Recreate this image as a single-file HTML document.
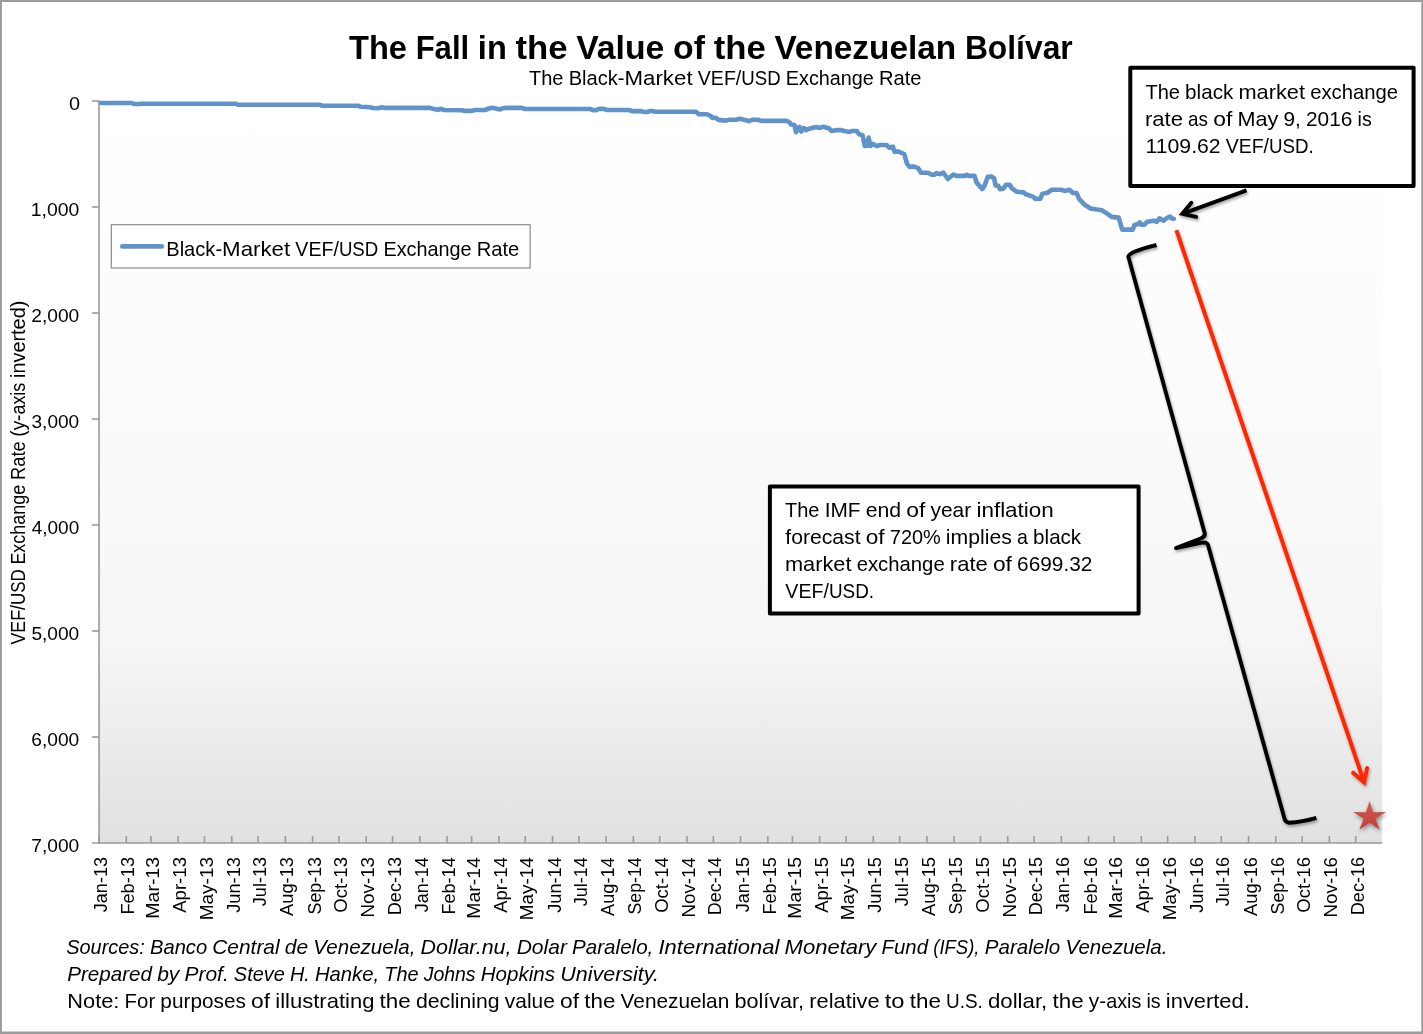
<!DOCTYPE html>
<html lang="en">
<head>
<meta charset="utf-8">
<title>The Fall in the Value of the Venezuelan Bolívar</title>
<style>
html,body{margin:0;padding:0;background:#fff;}
body{width:1423px;height:1034px;overflow:hidden;font-family:"Liberation Sans",sans-serif;}
svg{display:block;will-change:transform;}
</style>
</head>
<body>
<svg width="1423" height="1034" viewBox="0 0 1423 1034" font-family="'Liberation Sans', sans-serif" fill="#000">
<defs>
<linearGradient id="pg" x1="0" y1="0" x2="0" y2="1">
<stop offset="0" stop-color="#ffffff"/>
<stop offset="0.30" stop-color="#fcfcfc"/>
<stop offset="0.62" stop-color="#f8f8f8"/>
<stop offset="0.74" stop-color="#f5f5f5"/>
<stop offset="0.81" stop-color="#f0f0f0"/>
<stop offset="0.89" stop-color="#e9e9e9"/>
<stop offset="0.97" stop-color="#e3e3e3"/>
<stop offset="1" stop-color="#e1e1e1"/>
</linearGradient>
<linearGradient id="sg" x1="0" y1="0" x2="0" y2="1">
<stop offset="0" stop-color="#d9574e"/>
<stop offset="1" stop-color="#b9433a"/>
</linearGradient>
<filter id="sh" x="-20%" y="-20%" width="140%" height="140%">
<feGaussianBlur in="SourceAlpha" stdDeviation="1.7"/>
<feOffset dx="0.6" dy="2.2" result="o"/>
<feComponentTransfer><feFuncA type="linear" slope="0.36"/></feComponentTransfer>
<feMerge><feMergeNode/><feMergeNode in="SourceGraphic"/></feMerge>
</filter>
<filter id="sh2" x="-30%" y="-30%" width="160%" height="170%">
<feGaussianBlur in="SourceAlpha" stdDeviation="1.9"/>
<feOffset dx="0.6" dy="2.2" result="o"/>
<feComponentTransfer><feFuncA type="linear" slope="0.42"/></feComponentTransfer>
<feMerge><feMergeNode/><feMergeNode in="SourceGraphic"/></feMerge>
</filter>
</defs>
<rect x="0" y="0" width="1423" height="1034" fill="#fff"/>
<rect x="99.05" y="101.0" width="1283.15" height="742.00" fill="url(#pg)"/>
<g stroke="#9a9a9a" stroke-width="1.6" fill="none">
<line x1="99.05" y1="100.4" x2="99.05" y2="843.7"/>
<line x1="92.05" y1="843.0" x2="1382.2" y2="843.0"/>
<line x1="92.05" y1="101.0" x2="99.05" y2="101.0"/>
<line x1="92.05" y1="207.0" x2="99.05" y2="207.0"/>
<line x1="92.05" y1="313.0" x2="99.05" y2="313.0"/>
<line x1="92.05" y1="419.0" x2="99.05" y2="419.0"/>
<line x1="92.05" y1="525.0" x2="99.05" y2="525.0"/>
<line x1="92.05" y1="631.0" x2="99.05" y2="631.0"/>
<line x1="92.05" y1="737.0" x2="99.05" y2="737.0"/>
<line x1="99.05" y1="836.0" x2="99.05" y2="843.0"/>
<line x1="126.29" y1="836.0" x2="126.29" y2="843.0"/>
<line x1="150.90" y1="836.0" x2="150.90" y2="843.0"/>
<line x1="178.14" y1="836.0" x2="178.14" y2="843.0"/>
<line x1="204.51" y1="836.0" x2="204.51" y2="843.0"/>
<line x1="231.75" y1="836.0" x2="231.75" y2="843.0"/>
<line x1="258.11" y1="836.0" x2="258.11" y2="843.0"/>
<line x1="285.36" y1="836.0" x2="285.36" y2="843.0"/>
<line x1="312.60" y1="836.0" x2="312.60" y2="843.0"/>
<line x1="338.96" y1="836.0" x2="338.96" y2="843.0"/>
<line x1="366.21" y1="836.0" x2="366.21" y2="843.0"/>
<line x1="392.57" y1="836.0" x2="392.57" y2="843.0"/>
<line x1="419.81" y1="836.0" x2="419.81" y2="843.0"/>
<line x1="447.05" y1="836.0" x2="447.05" y2="843.0"/>
<line x1="471.66" y1="836.0" x2="471.66" y2="843.0"/>
<line x1="498.90" y1="836.0" x2="498.90" y2="843.0"/>
<line x1="525.27" y1="836.0" x2="525.27" y2="843.0"/>
<line x1="552.51" y1="836.0" x2="552.51" y2="843.0"/>
<line x1="578.87" y1="836.0" x2="578.87" y2="843.0"/>
<line x1="606.12" y1="836.0" x2="606.12" y2="843.0"/>
<line x1="633.36" y1="836.0" x2="633.36" y2="843.0"/>
<line x1="659.72" y1="836.0" x2="659.72" y2="843.0"/>
<line x1="686.97" y1="836.0" x2="686.97" y2="843.0"/>
<line x1="713.33" y1="836.0" x2="713.33" y2="843.0"/>
<line x1="740.57" y1="836.0" x2="740.57" y2="843.0"/>
<line x1="767.82" y1="836.0" x2="767.82" y2="843.0"/>
<line x1="792.42" y1="836.0" x2="792.42" y2="843.0"/>
<line x1="819.67" y1="836.0" x2="819.67" y2="843.0"/>
<line x1="846.03" y1="836.0" x2="846.03" y2="843.0"/>
<line x1="873.27" y1="836.0" x2="873.27" y2="843.0"/>
<line x1="899.64" y1="836.0" x2="899.64" y2="843.0"/>
<line x1="926.88" y1="836.0" x2="926.88" y2="843.0"/>
<line x1="954.12" y1="836.0" x2="954.12" y2="843.0"/>
<line x1="980.49" y1="836.0" x2="980.49" y2="843.0"/>
<line x1="1007.73" y1="836.0" x2="1007.73" y2="843.0"/>
<line x1="1034.09" y1="836.0" x2="1034.09" y2="843.0"/>
<line x1="1061.34" y1="836.0" x2="1061.34" y2="843.0"/>
<line x1="1088.58" y1="836.0" x2="1088.58" y2="843.0"/>
<line x1="1114.06" y1="836.0" x2="1114.06" y2="843.0"/>
<line x1="1141.31" y1="836.0" x2="1141.31" y2="843.0"/>
<line x1="1167.67" y1="836.0" x2="1167.67" y2="843.0"/>
<line x1="1194.91" y1="836.0" x2="1194.91" y2="843.0"/>
<line x1="1221.28" y1="836.0" x2="1221.28" y2="843.0"/>
<line x1="1248.52" y1="836.0" x2="1248.52" y2="843.0"/>
<line x1="1275.76" y1="836.0" x2="1275.76" y2="843.0"/>
<line x1="1302.13" y1="836.0" x2="1302.13" y2="843.0"/>
<line x1="1329.37" y1="836.0" x2="1329.37" y2="843.0"/>
<line x1="1355.73" y1="836.0" x2="1355.73" y2="843.0"/>
</g>
<text x="68.92" y="109.60" font-size="18.0" textLength="11.05" lengthAdjust="spacingAndGlyphs">0</text>
<text x="30.72" y="215.60" font-size="18.0" textLength="48.53" lengthAdjust="spacingAndGlyphs">1,000</text>
<text x="31.24" y="321.60" font-size="18.0" textLength="48.01" lengthAdjust="spacingAndGlyphs">2,000</text>
<text x="31.47" y="427.60" font-size="18.0" textLength="47.77" lengthAdjust="spacingAndGlyphs">3,000</text>
<text x="31.76" y="533.60" font-size="18.0" textLength="47.48" lengthAdjust="spacingAndGlyphs">4,000</text>
<text x="31.44" y="639.60" font-size="18.0" textLength="47.81" lengthAdjust="spacingAndGlyphs">5,000</text>
<text x="31.23" y="745.60" font-size="18.0" textLength="48.02" lengthAdjust="spacingAndGlyphs">6,000</text>
<text x="31.22" y="851.60" font-size="18.0" textLength="48.03" lengthAdjust="spacingAndGlyphs">7,000</text>
<text transform="translate(107.15,912.18) rotate(-90)" font-size="18.0" textLength="55.17" lengthAdjust="spacingAndGlyphs">Jan-13</text>
<text transform="translate(134.39,914.59) rotate(-90)" font-size="18.0" textLength="57.59" lengthAdjust="spacingAndGlyphs">Feb-13</text>
<text transform="translate(159.00,918.70) rotate(-90)" font-size="18.0" textLength="61.76" lengthAdjust="spacingAndGlyphs">Mar-13</text>
<text transform="translate(186.24,912.84) rotate(-90)" font-size="18.0" textLength="55.85" lengthAdjust="spacingAndGlyphs">Apr-13</text>
<text transform="translate(212.61,920.26) rotate(-90)" font-size="18.0" textLength="63.29" lengthAdjust="spacingAndGlyphs">May-13</text>
<text transform="translate(239.85,912.79) rotate(-90)" font-size="18.0" textLength="55.79" lengthAdjust="spacingAndGlyphs">Jun-13</text>
<text transform="translate(266.21,906.18) rotate(-90)" font-size="18.0" textLength="49.18" lengthAdjust="spacingAndGlyphs">Jul-13</text>
<text transform="translate(293.46,915.94) rotate(-90)" font-size="18.0" textLength="58.94" lengthAdjust="spacingAndGlyphs">Aug-13</text>
<text transform="translate(320.70,914.51) rotate(-90)" font-size="18.0" textLength="57.49" lengthAdjust="spacingAndGlyphs">Sep-13</text>
<text transform="translate(347.06,912.78) rotate(-90)" font-size="18.0" textLength="55.80" lengthAdjust="spacingAndGlyphs">Oct-13</text>
<text transform="translate(374.31,917.44) rotate(-90)" font-size="18.0" textLength="60.46" lengthAdjust="spacingAndGlyphs">Nov-13</text>
<text transform="translate(400.67,915.18) rotate(-90)" font-size="18.0" textLength="58.17" lengthAdjust="spacingAndGlyphs">Dec-13</text>
<text transform="translate(427.91,912.18) rotate(-90)" font-size="18.0" textLength="54.91" lengthAdjust="spacingAndGlyphs">Jan-14</text>
<text transform="translate(455.15,914.58) rotate(-90)" font-size="18.0" textLength="57.31" lengthAdjust="spacingAndGlyphs">Feb-14</text>
<text transform="translate(479.76,918.69) rotate(-90)" font-size="18.0" textLength="61.46" lengthAdjust="spacingAndGlyphs">Mar-14</text>
<text transform="translate(507.00,912.84) rotate(-90)" font-size="18.0" textLength="55.58" lengthAdjust="spacingAndGlyphs">Apr-14</text>
<text transform="translate(533.37,920.25) rotate(-90)" font-size="18.0" textLength="63.00" lengthAdjust="spacingAndGlyphs">May-14</text>
<text transform="translate(560.61,912.78) rotate(-90)" font-size="18.0" textLength="55.52" lengthAdjust="spacingAndGlyphs">Jun-14</text>
<text transform="translate(586.97,906.18) rotate(-90)" font-size="18.0" textLength="48.91" lengthAdjust="spacingAndGlyphs">Jul-14</text>
<text transform="translate(614.22,915.94) rotate(-90)" font-size="18.0" textLength="58.67" lengthAdjust="spacingAndGlyphs">Aug-14</text>
<text transform="translate(641.46,914.51) rotate(-90)" font-size="18.0" textLength="57.23" lengthAdjust="spacingAndGlyphs">Sep-14</text>
<text transform="translate(667.82,912.78) rotate(-90)" font-size="18.0" textLength="55.52" lengthAdjust="spacingAndGlyphs">Oct-14</text>
<text transform="translate(695.07,917.43) rotate(-90)" font-size="18.0" textLength="60.18" lengthAdjust="spacingAndGlyphs">Nov-14</text>
<text transform="translate(721.43,915.17) rotate(-90)" font-size="18.0" textLength="57.90" lengthAdjust="spacingAndGlyphs">Dec-14</text>
<text transform="translate(748.67,912.18) rotate(-90)" font-size="18.0" textLength="55.14" lengthAdjust="spacingAndGlyphs">Jan-15</text>
<text transform="translate(775.92,914.59) rotate(-90)" font-size="18.0" textLength="57.55" lengthAdjust="spacingAndGlyphs">Feb-15</text>
<text transform="translate(800.52,918.70) rotate(-90)" font-size="18.0" textLength="61.72" lengthAdjust="spacingAndGlyphs">Mar-15</text>
<text transform="translate(827.77,912.84) rotate(-90)" font-size="18.0" textLength="55.82" lengthAdjust="spacingAndGlyphs">Apr-15</text>
<text transform="translate(854.13,920.26) rotate(-90)" font-size="18.0" textLength="63.25" lengthAdjust="spacingAndGlyphs">May-15</text>
<text transform="translate(881.37,912.78) rotate(-90)" font-size="18.0" textLength="55.75" lengthAdjust="spacingAndGlyphs">Jun-15</text>
<text transform="translate(907.74,906.18) rotate(-90)" font-size="18.0" textLength="49.14" lengthAdjust="spacingAndGlyphs">Jul-15</text>
<text transform="translate(934.98,915.94) rotate(-90)" font-size="18.0" textLength="58.90" lengthAdjust="spacingAndGlyphs">Aug-15</text>
<text transform="translate(962.22,914.51) rotate(-90)" font-size="18.0" textLength="57.46" lengthAdjust="spacingAndGlyphs">Sep-15</text>
<text transform="translate(988.59,912.78) rotate(-90)" font-size="18.0" textLength="55.76" lengthAdjust="spacingAndGlyphs">Oct-15</text>
<text transform="translate(1015.83,917.44) rotate(-90)" font-size="18.0" textLength="60.42" lengthAdjust="spacingAndGlyphs">Nov-15</text>
<text transform="translate(1042.19,915.18) rotate(-90)" font-size="18.0" textLength="58.14" lengthAdjust="spacingAndGlyphs">Dec-15</text>
<text transform="translate(1069.44,912.18) rotate(-90)" font-size="18.0" textLength="55.17" lengthAdjust="spacingAndGlyphs">Jan-16</text>
<text transform="translate(1096.68,914.59) rotate(-90)" font-size="18.0" textLength="57.59" lengthAdjust="spacingAndGlyphs">Feb-16</text>
<text transform="translate(1122.16,918.70) rotate(-90)" font-size="18.0" textLength="61.76" lengthAdjust="spacingAndGlyphs">Mar-16</text>
<text transform="translate(1149.41,912.84) rotate(-90)" font-size="18.0" textLength="55.85" lengthAdjust="spacingAndGlyphs">Apr-16</text>
<text transform="translate(1175.77,920.26) rotate(-90)" font-size="18.0" textLength="63.29" lengthAdjust="spacingAndGlyphs">May-16</text>
<text transform="translate(1203.01,912.79) rotate(-90)" font-size="18.0" textLength="55.79" lengthAdjust="spacingAndGlyphs">Jun-16</text>
<text transform="translate(1229.38,906.18) rotate(-90)" font-size="18.0" textLength="49.18" lengthAdjust="spacingAndGlyphs">Jul-16</text>
<text transform="translate(1256.62,915.94) rotate(-90)" font-size="18.0" textLength="58.94" lengthAdjust="spacingAndGlyphs">Aug-16</text>
<text transform="translate(1283.86,914.51) rotate(-90)" font-size="18.0" textLength="57.49" lengthAdjust="spacingAndGlyphs">Sep-16</text>
<text transform="translate(1310.23,912.78) rotate(-90)" font-size="18.0" textLength="55.80" lengthAdjust="spacingAndGlyphs">Oct-16</text>
<text transform="translate(1337.47,917.44) rotate(-90)" font-size="18.0" textLength="60.46" lengthAdjust="spacingAndGlyphs">Nov-16</text>
<text transform="translate(1363.83,915.18) rotate(-90)" font-size="18.0" textLength="58.17" lengthAdjust="spacingAndGlyphs">Dec-16</text>
<g transform="translate(24.8,644.5) rotate(-90)">
<text x="-0.08" y="0.00" font-size="19.8" textLength="39.54" lengthAdjust="spacingAndGlyphs">VEF/</text>
<text x="39.47" y="0.00" font-size="19.8" textLength="35.71" lengthAdjust="spacingAndGlyphs">USD</text>
<text x="79.88" y="0.00" font-size="19.8" textLength="79.96" lengthAdjust="spacingAndGlyphs">Exchange</text>
<text x="164.54" y="0.00" font-size="19.8" textLength="38.61" lengthAdjust="spacingAndGlyphs">Rate</text>
<text x="207.85" y="0.00" font-size="19.8" textLength="22.10" lengthAdjust="spacingAndGlyphs">(y-</text>
<text x="229.95" y="0.00" font-size="19.8" textLength="31.88" lengthAdjust="spacingAndGlyphs">axis</text>
<text x="266.54" y="0.00" font-size="19.8" textLength="77.29" lengthAdjust="spacingAndGlyphs">inverted)</text>
</g>
<text x="349.03" y="59.00" font-size="34.0" textLength="57.93" lengthAdjust="spacingAndGlyphs" font-weight="bold">The</text>
<text x="415.64" y="59.00" font-size="34.0" textLength="53.56" lengthAdjust="spacingAndGlyphs" font-weight="bold">Fall</text>
<text x="477.86" y="59.00" font-size="34.0" textLength="28.93" lengthAdjust="spacingAndGlyphs" font-weight="bold">in</text>
<text x="515.46" y="59.00" font-size="34.0" textLength="52.10" lengthAdjust="spacingAndGlyphs" font-weight="bold">the</text>
<text x="576.23" y="59.00" font-size="34.0" textLength="88.16" lengthAdjust="spacingAndGlyphs" font-weight="bold">Value</text>
<text x="673.07" y="59.00" font-size="34.0" textLength="31.92" lengthAdjust="spacingAndGlyphs" font-weight="bold">of</text>
<text x="713.66" y="59.00" font-size="34.0" textLength="52.10" lengthAdjust="spacingAndGlyphs" font-weight="bold">the</text>
<text x="774.43" y="59.00" font-size="34.0" textLength="181.81" lengthAdjust="spacingAndGlyphs" font-weight="bold">Venezuelan</text>
<text x="964.91" y="59.00" font-size="34.0" textLength="107.77" lengthAdjust="spacingAndGlyphs" font-weight="bold">Bolívar</text>
<text x="528.95" y="84.80" font-size="19.7" textLength="34.59" lengthAdjust="spacingAndGlyphs">The</text>
<text x="568.72" y="84.80" font-size="19.7" textLength="55.81" lengthAdjust="spacingAndGlyphs">Black-</text>
<text x="624.53" y="84.80" font-size="19.7" textLength="68.07" lengthAdjust="spacingAndGlyphs">Market</text>
<text x="697.77" y="84.80" font-size="19.7" textLength="43.53" lengthAdjust="spacingAndGlyphs">VEF/</text>
<text x="741.30" y="84.80" font-size="19.7" textLength="39.31" lengthAdjust="spacingAndGlyphs">USD</text>
<text x="785.80" y="84.80" font-size="19.7" textLength="88.02" lengthAdjust="spacingAndGlyphs">Exchange</text>
<text x="879.00" y="84.80" font-size="19.7" textLength="42.50" lengthAdjust="spacingAndGlyphs">Rate</text>
<path d="M100.8,103.0 L132.0,103.0 L134.0,104.0 L140.0,104.0 L141.5,103.7 L236.0,103.8 L238.0,104.8 L320.0,104.8 L322.0,105.7 L358.0,105.7 L361.0,106.8 L370.0,107.3 L373.0,108.0 L378.0,108.2 L382.0,107.3 L384.0,107.9 L430.0,107.9 L435.0,109.2 L438.0,109.8 L441.0,108.8 L444.0,110.0 L462.0,110.2 L465.0,110.9 L472.0,110.9 L475.0,110.0 L485.0,110.0 L489.0,108.5 L492.0,107.7 L496.0,108.5 L500.0,109.5 L503.0,108.2 L505.0,107.9 L522.0,107.9 L525.0,109.0 L590.0,109.0 L593.0,110.2 L596.0,110.2 L599.0,108.9 L604.0,108.9 L607.0,110.0 L629.0,110.0 L632.0,111.1 L641.0,111.1 L644.0,112.0 L647.0,112.0 L650.0,111.0 L652.0,111.0 L655.0,111.7 L696.0,111.8 L698.8,114.2 L707.2,114.2 L710.8,116.0 L712.2,117.8 L715.7,117.8 L718.5,119.9 L726.2,120.6 L729.0,119.8 L736.0,119.8 L739.6,118.7 L745.9,120.2 L748.7,121.2 L752.2,119.8 L757.8,119.8 L761.4,120.9 L786.7,120.9 L789.5,122.3 L790.9,124.4 L794.4,125.1 L796.1,132.2 L799.3,126.8 L801.4,131.5 L803.5,127.9 L806.3,130.1 L809.1,128.7 L816.2,127.0 L819.7,127.9 L823.2,126.8 L828.8,128.2 L831.6,131.0 L837.3,130.1 L840.8,130.1 L844.3,131.0 L849.9,131.9 L852.0,131.0 L856.9,131.0 L859.0,134.3 L862.6,135.3 L864.8,146.0 L866.9,146.0 L868.6,137.6 L870.5,146.0 L872.6,143.9 L876.8,146.0 L880.3,145.0 L886.6,145.0 L889.4,147.8 L892.9,146.7 L894.4,151.6 L898.6,151.6 L904.2,154.0 L907.0,163.6 L909.8,167.1 L913.3,166.4 L918.2,168.1 L921.0,172.7 L928.0,172.7 L931.6,174.8 L934.4,174.8 L936.5,173.1 L940.0,174.1 L943.5,172.7 L947.8,179.0 L953.4,174.5 L956.2,175.9 L964.6,175.9 L966.7,174.8 L968.8,175.9 L974.5,175.9 L976.6,182.5 L982.2,189.1 L984.3,186.1 L987.8,176.9 L991.3,176.5 L994.1,178.3 L995.5,185.4 L998.4,185.8 L999.8,189.1 L1003.3,188.6 L1006.1,184.7 L1009.6,184.7 L1011.7,188.2 L1016.6,191.7 L1023.7,192.4 L1025.8,194.2 L1032.8,196.6 L1035.6,199.0 L1040.5,198.6 L1042.3,193.7 L1047.0,193.0 L1051.9,189.8 L1061.1,189.8 L1064.6,190.9 L1069.5,189.8 L1073.0,193.0 L1076.5,193.0 L1079.4,199.4 L1085.0,205.0 L1090.6,208.5 L1101.8,210.3 L1106.8,213.4 L1111.7,216.9 L1118.7,217.6 L1122.2,229.6 L1132.8,229.6 L1134.4,224.9 L1138.4,223.9 L1139.8,222.5 L1141.2,224.6 L1144.7,224.6 L1147.1,221.8 L1153.8,220.7 L1156.7,221.8 L1159.5,218.3 L1163.7,220.7 L1166.5,218.3 L1170.0,216.5 L1172.0,218.5 L1173.8,218.7" fill="none" stroke="#5f93ca" stroke-width="4.6" stroke-linejoin="round" stroke-linecap="round"/>
<rect x="111.3" y="224.7" width="418.8" height="43.3" fill="#fff" stroke="#8a8a8a" stroke-width="1.2"/>
<line x1="122.3" y1="246.4" x2="161.8" y2="246.4" stroke="#5f93ca" stroke-width="4.8" stroke-linecap="round"/>
<text x="166.26" y="255.60" font-size="19.8" textLength="55.84" lengthAdjust="spacingAndGlyphs">Black-</text>
<text x="222.09" y="255.60" font-size="19.8" textLength="68.10" lengthAdjust="spacingAndGlyphs">Market</text>
<text x="295.37" y="255.60" font-size="19.8" textLength="43.55" lengthAdjust="spacingAndGlyphs">VEF/</text>
<text x="338.92" y="255.60" font-size="19.8" textLength="39.33" lengthAdjust="spacingAndGlyphs">USD</text>
<text x="383.43" y="255.60" font-size="19.8" textLength="88.06" lengthAdjust="spacingAndGlyphs">Exchange</text>
<text x="476.68" y="255.60" font-size="19.8" textLength="42.52" lengthAdjust="spacingAndGlyphs">Rate</text>
<g>
<rect x="1130.3" y="67.7" width="283.3" height="118.2" fill="#fff" stroke="#000" stroke-width="4.0" stroke-linejoin="round"/>
</g>
<text x="1145.45" y="98.80" font-size="19.8" textLength="34.48" lengthAdjust="spacingAndGlyphs">The</text>
<text x="1185.09" y="98.80" font-size="19.8" textLength="48.20" lengthAdjust="spacingAndGlyphs">black</text>
<text x="1238.44" y="98.80" font-size="19.8" textLength="66.55" lengthAdjust="spacingAndGlyphs">market</text>
<text x="1310.16" y="98.80" font-size="19.8" textLength="87.95" lengthAdjust="spacingAndGlyphs">exchange</text>
<text x="1144.94" y="125.90" font-size="19.8" textLength="38.01" lengthAdjust="spacingAndGlyphs">rate</text>
<text x="1188.11" y="125.90" font-size="19.8" textLength="19.91" lengthAdjust="spacingAndGlyphs">as</text>
<text x="1213.19" y="125.90" font-size="19.8" textLength="19.04" lengthAdjust="spacingAndGlyphs">of</text>
<text x="1237.40" y="125.90" font-size="19.8" textLength="40.89" lengthAdjust="spacingAndGlyphs">May</text>
<text x="1283.46" y="125.90" font-size="19.8" textLength="17.32" lengthAdjust="spacingAndGlyphs">9,</text>
<text x="1305.95" y="125.90" font-size="19.8" textLength="46.40" lengthAdjust="spacingAndGlyphs">2016</text>
<text x="1357.52" y="125.90" font-size="19.8" textLength="14.19" lengthAdjust="spacingAndGlyphs">is</text>
<text x="1145.62" y="153.00" font-size="19.8" textLength="74.96" lengthAdjust="spacingAndGlyphs">1109.62</text>
<text x="1225.72" y="153.00" font-size="19.8" textLength="43.24" lengthAdjust="spacingAndGlyphs">VEF/</text>
<text x="1268.96" y="153.00" font-size="19.8" textLength="44.78" lengthAdjust="spacingAndGlyphs">USD.</text>
<g>
<rect x="769.9" y="486.4" width="368.7" height="127.0" fill="#fff" stroke="#000" stroke-width="4.0" stroke-linejoin="round"/>
</g>
<text x="784.95" y="516.60" font-size="19.8" textLength="34.56" lengthAdjust="spacingAndGlyphs">The</text>
<text x="824.69" y="516.60" font-size="19.8" textLength="35.85" lengthAdjust="spacingAndGlyphs">IMF</text>
<text x="865.70" y="516.60" font-size="19.8" textLength="35.43" lengthAdjust="spacingAndGlyphs">end</text>
<text x="906.31" y="516.60" font-size="19.8" textLength="19.04" lengthAdjust="spacingAndGlyphs">of</text>
<text x="930.53" y="516.60" font-size="19.8" textLength="40.72" lengthAdjust="spacingAndGlyphs">year</text>
<text x="976.42" y="516.60" font-size="19.8" textLength="77.44" lengthAdjust="spacingAndGlyphs">inflation</text>
<text x="785.30" y="543.60" font-size="19.8" textLength="75.29" lengthAdjust="spacingAndGlyphs">forecast</text>
<text x="865.74" y="543.60" font-size="19.8" textLength="18.94" lengthAdjust="spacingAndGlyphs">of</text>
<text x="889.83" y="543.60" font-size="19.8" textLength="50.91" lengthAdjust="spacingAndGlyphs">720%</text>
<text x="945.88" y="543.60" font-size="19.8" textLength="66.03" lengthAdjust="spacingAndGlyphs">implies</text>
<text x="1017.06" y="543.60" font-size="19.8" textLength="10.91" lengthAdjust="spacingAndGlyphs">a</text>
<text x="1033.11" y="543.60" font-size="19.8" textLength="48.06" lengthAdjust="spacingAndGlyphs">black</text>
<text x="784.95" y="570.90" font-size="19.8" textLength="66.58" lengthAdjust="spacingAndGlyphs">market</text>
<text x="856.70" y="570.90" font-size="19.8" textLength="87.98" lengthAdjust="spacingAndGlyphs">exchange</text>
<text x="949.84" y="570.90" font-size="19.8" textLength="37.94" lengthAdjust="spacingAndGlyphs">rate</text>
<text x="992.94" y="570.90" font-size="19.8" textLength="19.00" lengthAdjust="spacingAndGlyphs">of</text>
<text x="1017.11" y="570.90" font-size="19.8" textLength="75.24" lengthAdjust="spacingAndGlyphs">6699.32</text>
<text x="785.32" y="598.10" font-size="19.8" textLength="43.59" lengthAdjust="spacingAndGlyphs">VEF/</text>
<text x="828.91" y="598.10" font-size="19.8" textLength="45.15" lengthAdjust="spacingAndGlyphs">USD.</text>
<g filter="url(#sh)" fill="none" stroke-linecap="round" stroke-linejoin="round">
<path d="M1246.5,190.4 L1182.2,213.8" stroke="#000" stroke-width="3.9" stroke-linecap="butt"/>
<path d="M1191.35,202.8 L1182.24,213.79 L1196.3,216.9" stroke="#000" stroke-width="3.9" stroke-linejoin="miter" stroke-miterlimit="10"/>
<path d="M1156.5,245.0 C1142,249 1129.6,252 1128.3,256.6 L1204.5,532.4 Q1205.9,536.6 1200.6,538.5 L1176.0,548.0 L1200.6,542.8 Q1206.8,541.5 1208.1,545.2 L1284.7,819.3 Q1285.6,822.3 1289.0,822.7 Q1302,822.0 1316.4,817.8" stroke="#000" stroke-width="3.9" stroke-linecap="butt"/>
<path d="M1176.4,230.2 L1364.1,782.1" stroke="#ff2600" stroke-width="4" stroke-linecap="butt"/>
<path d="M1353.1,772.7 L1364.14,782.18 L1367.1,768.0" stroke="#ff2600" stroke-width="4" stroke-linejoin="miter" stroke-miterlimit="10"/>
</g>
<polygon filter="url(#sh2)" fill="url(#sg)" points="1369.6,801.1 1373.3,812.2 1386.1,812.0 1375.6,818.7 1379.8,829.7 1369.6,822.7 1359.4,829.7 1363.6,818.7 1353.1,812.0 1365.9,812.2"/>
<text x="66.24" y="953.80" font-size="19.8" textLength="78.62" lengthAdjust="spacingAndGlyphs" font-style="italic">Sources:</text>
<text x="150.02" y="953.80" font-size="19.8" textLength="57.09" lengthAdjust="spacingAndGlyphs" font-style="italic">Banco</text>
<text x="212.27" y="953.80" font-size="19.8" textLength="67.37" lengthAdjust="spacingAndGlyphs" font-style="italic">Central</text>
<text x="284.81" y="953.80" font-size="19.8" textLength="23.38" lengthAdjust="spacingAndGlyphs" font-style="italic">de</text>
<text x="313.35" y="953.80" font-size="19.8" textLength="102.02" lengthAdjust="spacingAndGlyphs" font-style="italic">Venezuela,</text>
<text x="420.53" y="953.80" font-size="19.8" textLength="90.96" lengthAdjust="spacingAndGlyphs" font-style="italic">Dollar.nu,</text>
<text x="516.66" y="953.80" font-size="19.8" textLength="50.25" lengthAdjust="spacingAndGlyphs" font-style="italic">Dolar</text>
<text x="572.07" y="953.80" font-size="19.8" textLength="81.29" lengthAdjust="spacingAndGlyphs" font-style="italic">Paralelo,</text>
<text x="658.53" y="953.80" font-size="19.8" textLength="120.83" lengthAdjust="spacingAndGlyphs" font-style="italic">International</text>
<text x="784.52" y="953.80" font-size="19.8" textLength="91.89" lengthAdjust="spacingAndGlyphs" font-style="italic">Monetary</text>
<text x="881.58" y="953.80" font-size="19.8" textLength="46.48" lengthAdjust="spacingAndGlyphs" font-style="italic">Fund</text>
<text x="933.23" y="953.80" font-size="19.8" textLength="46.30" lengthAdjust="spacingAndGlyphs" font-style="italic">(IFS),</text>
<text x="984.69" y="953.80" font-size="19.8" textLength="75.58" lengthAdjust="spacingAndGlyphs" font-style="italic">Paralelo</text>
<text x="1065.44" y="953.80" font-size="19.8" textLength="102.06" lengthAdjust="spacingAndGlyphs" font-style="italic">Venezuela.</text>
<text x="67.17" y="980.60" font-size="19.8" textLength="84.88" lengthAdjust="spacingAndGlyphs" font-style="italic">Prepared</text>
<text x="157.18" y="980.60" font-size="19.8" textLength="22.20" lengthAdjust="spacingAndGlyphs" font-style="italic">by</text>
<text x="184.51" y="980.60" font-size="19.8" textLength="44.26" lengthAdjust="spacingAndGlyphs" font-style="italic">Prof.</text>
<text x="233.89" y="980.60" font-size="19.8" textLength="50.89" lengthAdjust="spacingAndGlyphs" font-style="italic">Steve</text>
<text x="289.91" y="980.60" font-size="19.8" textLength="19.86" lengthAdjust="spacingAndGlyphs" font-style="italic">H.</text>
<text x="314.90" y="980.60" font-size="19.8" textLength="64.23" lengthAdjust="spacingAndGlyphs" font-style="italic">Hanke,</text>
<text x="384.26" y="980.60" font-size="19.8" textLength="34.27" lengthAdjust="spacingAndGlyphs" font-style="italic">The</text>
<text x="423.66" y="980.60" font-size="19.8" textLength="51.91" lengthAdjust="spacingAndGlyphs" font-style="italic">Johns</text>
<text x="480.69" y="980.60" font-size="19.8" textLength="74.33" lengthAdjust="spacingAndGlyphs" font-style="italic">Hopkins</text>
<text x="560.15" y="980.60" font-size="19.8" textLength="98.84" lengthAdjust="spacingAndGlyphs" font-style="italic">University.</text>
<text x="67.31" y="1007.60" font-size="19.8" textLength="52.12" lengthAdjust="spacingAndGlyphs">Note:</text>
<text x="124.61" y="1007.60" font-size="19.8" textLength="30.60" lengthAdjust="spacingAndGlyphs">For</text>
<text x="160.38" y="1007.60" font-size="19.8" textLength="85.51" lengthAdjust="spacingAndGlyphs">purposes</text>
<text x="251.07" y="1007.60" font-size="19.8" textLength="19.07" lengthAdjust="spacingAndGlyphs">of</text>
<text x="275.32" y="1007.60" font-size="19.8" textLength="99.14" lengthAdjust="spacingAndGlyphs">illustrating</text>
<text x="379.64" y="1007.60" font-size="19.8" textLength="31.12" lengthAdjust="spacingAndGlyphs">the</text>
<text x="415.94" y="1007.60" font-size="19.8" textLength="83.74" lengthAdjust="spacingAndGlyphs">declining</text>
<text x="504.87" y="1007.60" font-size="19.8" textLength="50.03" lengthAdjust="spacingAndGlyphs">value</text>
<text x="560.08" y="1007.60" font-size="19.8" textLength="19.07" lengthAdjust="spacingAndGlyphs">of</text>
<text x="584.32" y="1007.60" font-size="19.8" textLength="31.12" lengthAdjust="spacingAndGlyphs">the</text>
<text x="620.63" y="1007.60" font-size="19.8" textLength="108.61" lengthAdjust="spacingAndGlyphs">Venezuelan</text>
<text x="734.41" y="1007.60" font-size="19.8" textLength="69.67" lengthAdjust="spacingAndGlyphs">bolívar,</text>
<text x="809.26" y="1007.60" font-size="19.8" textLength="70.34" lengthAdjust="spacingAndGlyphs">relative</text>
<text x="884.78" y="1007.60" font-size="19.8" textLength="19.76" lengthAdjust="spacingAndGlyphs">to</text>
<text x="909.72" y="1007.60" font-size="19.8" textLength="31.12" lengthAdjust="spacingAndGlyphs">the</text>
<text x="946.02" y="1007.60" font-size="19.8" textLength="36.78" lengthAdjust="spacingAndGlyphs">U.S.</text>
<text x="987.98" y="1007.60" font-size="19.8" textLength="59.31" lengthAdjust="spacingAndGlyphs">dollar,</text>
<text x="1052.47" y="1007.60" font-size="19.8" textLength="31.12" lengthAdjust="spacingAndGlyphs">the</text>
<text x="1088.78" y="1007.60" font-size="19.8" textLength="17.39" lengthAdjust="spacingAndGlyphs">y-</text>
<text x="1106.17" y="1007.60" font-size="19.8" textLength="35.11" lengthAdjust="spacingAndGlyphs">axis</text>
<text x="1146.46" y="1007.60" font-size="19.8" textLength="14.21" lengthAdjust="spacingAndGlyphs">is</text>
<text x="1165.85" y="1007.60" font-size="19.8" textLength="83.95" lengthAdjust="spacingAndGlyphs">inverted.</text>
<path d="M0,0 H1423 V1034 H0 Z M1.9,1.9 V1031.6 H1421.3 V1.9 Z" fill="#9b9b9b" fill-rule="evenodd"/>
</svg>
</body>
</html>
